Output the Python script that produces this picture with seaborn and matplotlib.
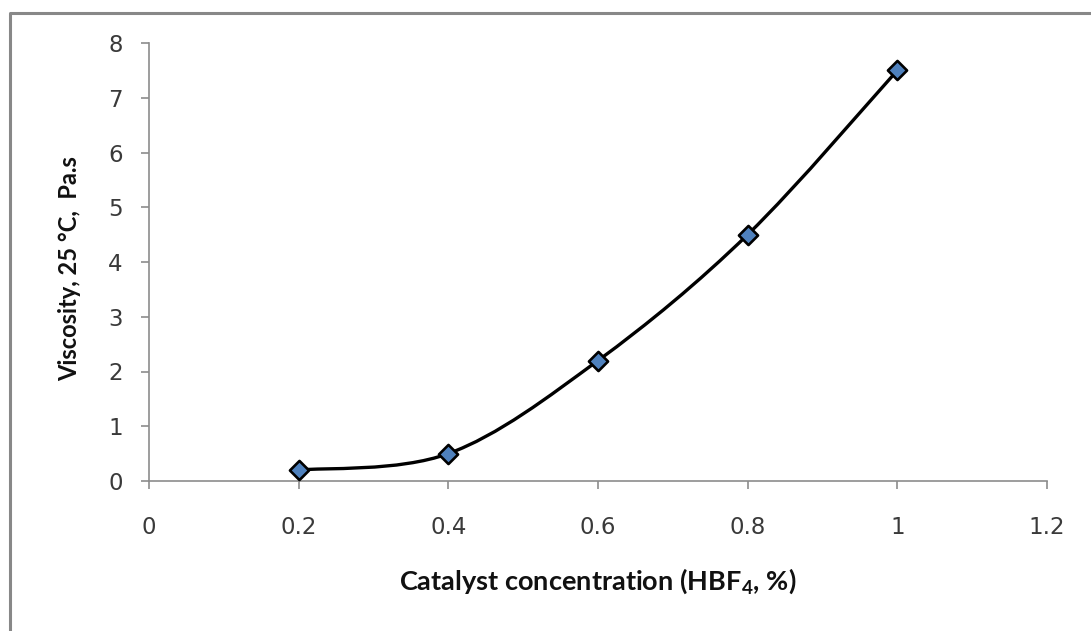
import numpy as np
import pandas as pd
import seaborn as sns
import matplotlib
matplotlib.use("Agg")
import matplotlib.pyplot as plt
from matplotlib.path import Path
from matplotlib.patches import PathPatch
from matplotlib.lines import Line2D

# ---- data ----
concentration = [0.2, 0.4, 0.6, 0.8, 1.0]
viscosity = [0.2, 0.5, 2.2, 4.5, 7.5]
x_ticks = [0, 0.2, 0.4, 0.6, 0.8, 1.0, 1.2]
x_tick_labels = ["0", "0.2", "0.4", "0.6", "0.8", "1", "1.2"]
y_ticks = [0, 1, 2, 3, 4, 5, 6, 7, 8]
x_label = "Catalyst concentration (HBF$_4$, %)"
y_label = "Viscosity, 25 \u00b0C,  Pa.s"

df = pd.DataFrame({"conc": concentration, "visc": viscosity})

sns.set_theme(style="white")
plt.rcParams["font.family"] = ["Lato", "DejaVu Sans"]
plt.rcParams["mathtext.fontset"] = "custom"
plt.rcParams["mathtext.rm"] = "Lato"
plt.rcParams["mathtext.bf"] = "Lato:bold"
plt.rcParams["mathtext.default"] = "regular"

fig = plt.figure(figsize=(10.91, 6.31), dpi=100)
ax = fig.add_axes([149 / 1091, 1 - 481 / 631, (1047 - 149) / 1091, (481 - 43) / 631])

# smoothed line (Excel-like Catmull-Rom Bezier through the points)
pts = np.column_stack([df["conc"].to_numpy(), df["visc"].to_numpy()])
ext = np.vstack([pts[0], pts, pts[-1]])
verts = [tuple(pts[0])]
codes = [Path.MOVETO]
for i in range(len(pts) - 1):
    p0, p1, p2, p3 = ext[i], ext[i + 1], ext[i + 2], ext[i + 3]
    c1 = p1 + (p2 - p0) / 6.0
    c2 = p2 - (p3 - p1) / 6.0
    verts += [tuple(c1), tuple(c2), tuple(p2)]
    codes += [Path.CURVE4] * 3
ax.add_patch(PathPatch(Path(verts, codes), facecolor="none", edgecolor="black",
                       lw=2.4, capstyle="round", joinstyle="round", zorder=2))

sns.scatterplot(data=df, x="conc", y="visc", marker="D", s=95, color="#4F81BD",
                edgecolor="black", linewidth=1.9, zorder=3, ax=ax)

ax.set_xlim(0, 1.2)
ax.set_ylim(0, 8)
ax.set_xticks(x_ticks)
ax.set_xticklabels(x_tick_labels)
ax.set_yticks(y_ticks)

for s in ["top", "right"]:
    ax.spines[s].set_visible(False)
for s in ["left", "bottom"]:
    ax.spines[s].set_color("#8c8c8c")
    ax.spines[s].set_linewidth(1.2)

ax.tick_params(axis="both", which="major", direction="out", length=6, width=1.2,
               color="#8c8c8c", labelsize=16.5, labelcolor="#3a3a3a")
ax.tick_params(axis="x", pad=19, bottom=True)
ax.tick_params(axis="y", pad=13, left=True)
for lab in ax.get_xticklabels() + ax.get_yticklabels():
    lab.set_family(["DejaVu Sans"])

ax.set_xlabel(x_label, fontsize=19.5, fontweight="bold", color="#111111", labelpad=20)
ax.set_ylabel(y_label, fontsize=17, fontweight="bold", color="#111111")
ax.yaxis.set_label_coords(-0.076, 0.484)

# outer frame (left and top edges)
fig.add_artist(Line2D([9.5 / 1091, 9.5 / 1091, 1.0], [0.0, 1 - 12.5 / 631, 1 - 12.5 / 631],
                      transform=fig.transFigure, color="#888888", lw=2.2))

fig.savefig("out.png", dpi=100)
